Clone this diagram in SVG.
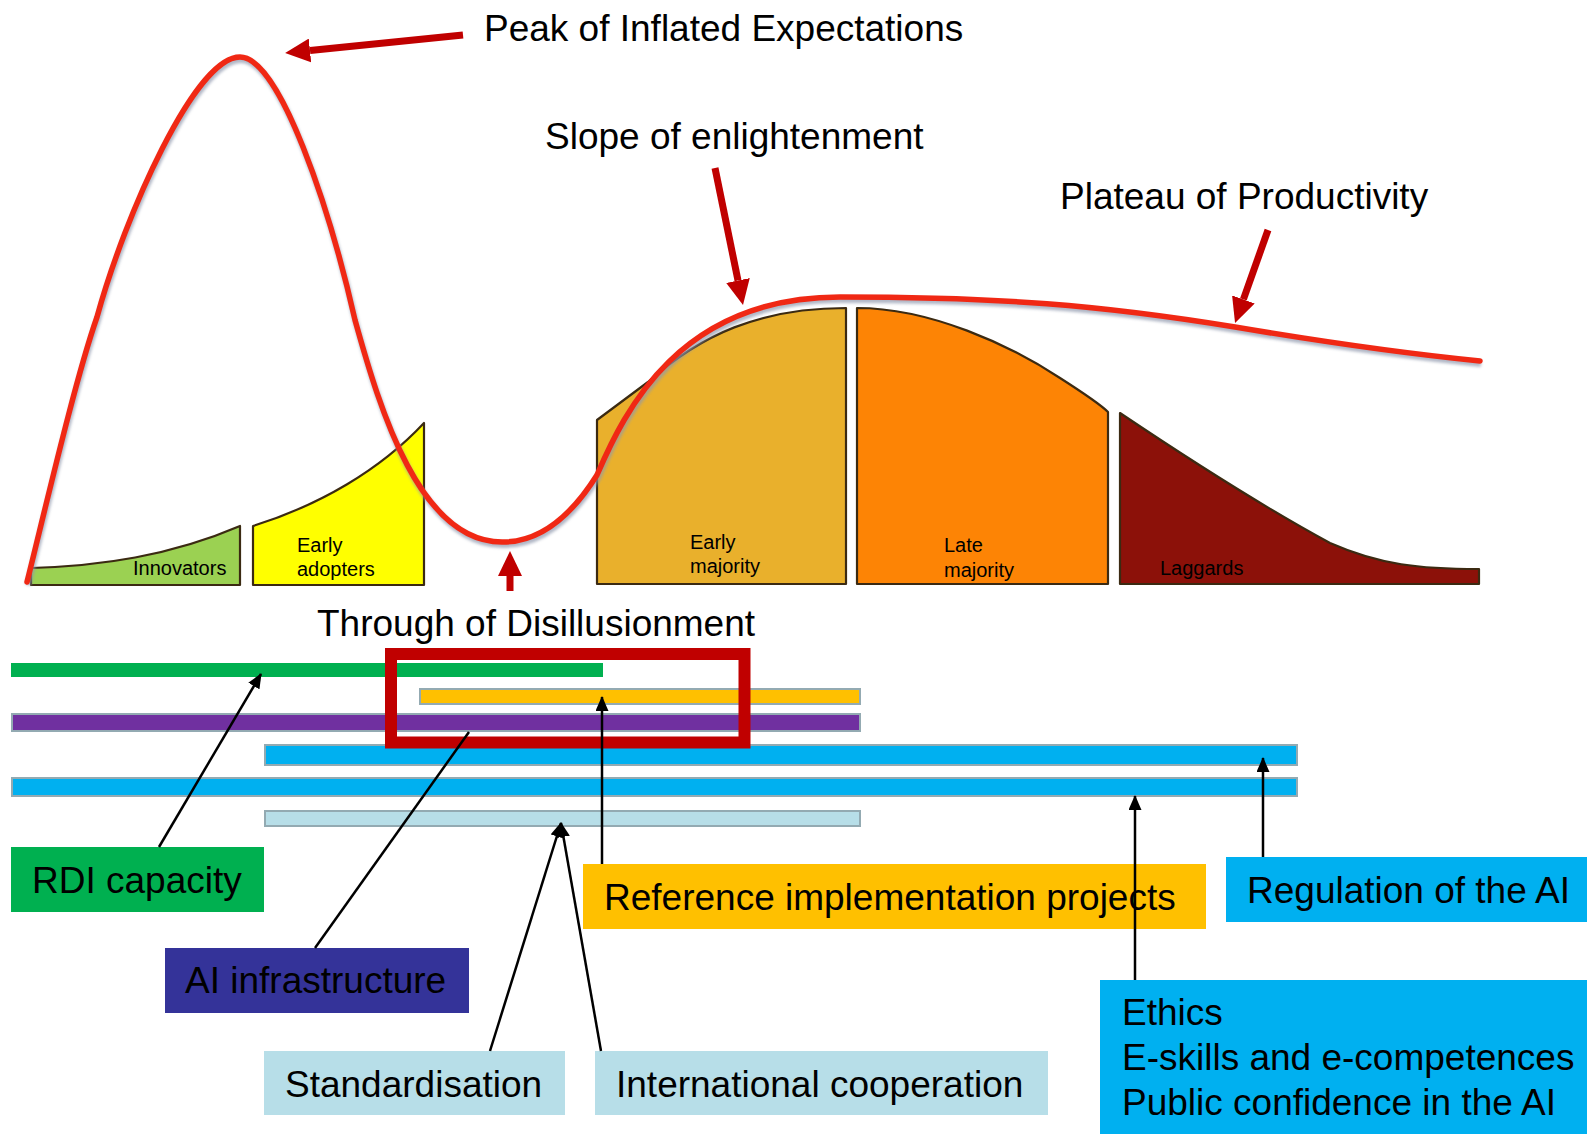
<svg xmlns="http://www.w3.org/2000/svg" width="1587" height="1134" viewBox="0 0 1587 1134">
<style>
.big{font-family:"Liberation Sans",Arial,sans-serif;font-size:37px;fill:#000}
.small{font-family:"Liberation Sans",Arial,sans-serif;font-size:20px;fill:#000}
.seg{stroke:#3b2a12;stroke-width:2.2;stroke-linejoin:round}
.bar{stroke:#93aab2;stroke-width:2}
.redarrow{stroke:#c00000;stroke-width:7;fill:none}
.conn{stroke:#000;stroke-width:2.5;fill:none}
</style>
<defs>
<marker id="redhead" markerUnits="userSpaceOnUse" markerWidth="25" markerHeight="24" viewBox="0 0 25 24" refX="0" refY="12" orient="auto">
<path d="M0,0 L25,12 L0,24 z" fill="#c00000"/>
</marker>
<marker id="blackhead" markerUnits="userSpaceOnUse" markerWidth="15" markerHeight="13" viewBox="0 0 15 13" refX="14" refY="6.5" orient="auto">
<path d="M0,0 L15,6.5 L0,13 z" fill="#000"/>
</marker>
<filter id="blur" x="-5%" y="-5%" width="110%" height="110%"><feGaussianBlur stdDeviation="1.5"/></filter>
</defs>
<rect width="1587" height="1134" fill="#fff"/>

<g id="adoption-curve">
<path class="seg" fill="#9bd152" d="M31,568 C100,566 170,556 240,526 L240,585 L31,585 Z"/>
<path class="seg" fill="#ffff00" d="M253,526 C320,505 380,470 424,423 L424,585 L253,585 Z"/>
<path class="seg" fill="#e9b02c" d="M597,420 L648,382 C700,335 760,308 846,308 L846,584 L597,584 Z"/>
<path class="seg" fill="#fd8405" d="M857,308 C930,308 1010,345 1060,378 C1085,394 1100,404 1108,412 L1108,584 L857,584 Z"/>
<path class="seg" fill="#8c1109" d="M1120,413 C1190,460 1260,505 1330,543 C1380,565 1420,569 1479,569 L1479,584 L1120,584 Z"/>
<text class="small" x="133" y="575">Innovators</text>
<text class="small" x="297" y="552">Early</text>
<text class="small" x="297" y="576">adopters</text>
<text class="small" x="690" y="549">Early</text>
<text class="small" x="690" y="573">majority</text>
<text class="small" x="944" y="552">Late</text>
<text class="small" x="944" y="577">majority</text>
<text class="small" x="1160" y="575">Laggards</text>
</g>

<g id="hype-curve">
<path d="M27,582 C45,510 75,380 97,317 C125,215 195,57 240,57 C280,57 330,210 355,320 C380,410 420,543 503,542 C545,542 575,510 597,475 C625,410 680,297 840,297 C1000,297 1100,305 1235,327 C1330,343 1420,355 1480,361" fill="none" stroke="#8f98ad" stroke-width="6" opacity="0.7" transform="translate(1,3)" filter="url(#blur)"/>
<path d="M27,582 C45,510 75,380 97,317 C125,215 195,57 240,57 C280,57 330,210 355,320 C380,410 420,543 503,542 C545,542 575,510 597,475 C625,410 680,297 840,297 C1000,297 1100,305 1235,327 C1330,343 1420,355 1480,361" fill="none" stroke="#f02814" stroke-width="5.5" stroke-linecap="round"/>
</g>

<g id="phase-labels">
<text class="big" x="484" y="41">Peak of Inflated Expectations</text>
<text class="big" x="545" y="149">Slope of enlightenment</text>
<text class="big" x="1060" y="209">Plateau of Productivity</text>
<text class="big" x="317" y="636">Through of Disillusionment</text>
</g>

<g id="phase-arrows">
<line class="redarrow" x1="463" y1="35" x2="310" y2="50.5" marker-end="url(#redhead)"/>
<line class="redarrow" x1="715" y1="168" x2="738" y2="280.5" marker-end="url(#redhead)"/>
<line class="redarrow" x1="1268" y1="230" x2="1243.4" y2="299.4" marker-end="url(#redhead)"/>
<line class="redarrow" x1="510" y1="591" x2="510" y2="576" stroke-width="8" marker-end="url(#redhead)"/>
</g>

<g id="bars">
<rect x="11" y="663" width="592" height="14" fill="#00b050"/>
<rect class="bar" x="420" y="689" width="440" height="15" fill="#ffc000"/>
<rect class="bar" x="12" y="714" width="848" height="17" fill="#7030a0"/>
<rect class="bar" x="265" y="745" width="1032" height="20" fill="#00b0f0"/>
<rect class="bar" x="12" y="778" width="1285" height="18" fill="#00b0f0"/>
<rect class="bar" x="265" y="811" width="595" height="15" fill="#b7dee8"/>
</g>

<g id="highlight">
<rect x="391" y="654" width="353.5" height="88.5" fill="none" stroke="#c00000" stroke-width="12"/>
</g>

<g id="rdi-capacity">
<rect x="11" y="847" width="253" height="65" fill="#00b050"/>
<text class="big" x="32" y="893">RDI capacity</text>
</g>
<g id="ai-infrastructure">
<rect x="165" y="948" width="304" height="65" fill="#343399"/>
<text class="big" x="185" y="993">AI infrastructure</text>
</g>
<g id="standardisation">
<rect x="264" y="1051" width="301" height="64" fill="#b7dee8"/>
<text class="big" x="285" y="1097">Standardisation</text>
</g>
<g id="international-cooperation">
<rect x="595" y="1051" width="453" height="64" fill="#b7dee8"/>
<text class="big" x="616" y="1097">International cooperation</text>
</g>
<g id="reference-implementation">
<rect x="583" y="864" width="623" height="65" fill="#ffc000"/>
<text class="big" x="604" y="910">Reference implementation projects</text>
</g>
<g id="regulation">
<rect x="1226" y="857" width="361" height="65" fill="#00b0f0"/>
<text class="big" x="1247" y="903">Regulation of the AI</text>
</g>
<g id="ethics-skills-confidence">
<rect x="1100" y="980" width="487" height="154" fill="#00b0f0"/>
<text class="big" x="1122" y="1025">Ethics</text>
<text class="big" x="1122" y="1070">E-skills and e-competences</text>
<text class="big" x="1122" y="1115">Public confidence in the AI</text>
</g>

<g id="connectors">
<line class="conn" x1="159" y1="847" x2="261" y2="674" marker-end="url(#blackhead)"/>
<line class="conn" x1="315" y1="948" x2="469" y2="732"/>
<line class="conn" x1="602" y1="864" x2="602" y2="697" marker-end="url(#blackhead)"/>
<line class="conn" x1="490" y1="1051" x2="561" y2="823" marker-end="url(#blackhead)"/>
<line class="conn" x1="601" y1="1051" x2="561" y2="823" marker-end="url(#blackhead)"/>
<line class="conn" x1="1135" y1="980" x2="1135" y2="796" marker-end="url(#blackhead)"/>
<line class="conn" x1="1263" y1="857" x2="1263" y2="758" marker-end="url(#blackhead)"/>
</g>
</svg>
